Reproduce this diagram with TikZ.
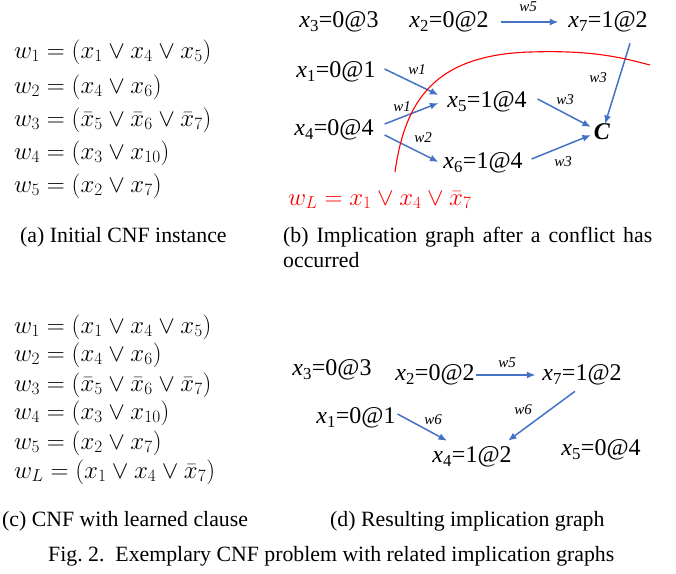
\documentclass[tikz,border=0pt]{standalone}
\usepackage{fontspec}
\setmainfont{Liberation Serif}
\usetikzlibrary{arrows.meta,calc}
\definecolor{arblue}{RGB}{68,114,196}
\newcommand\gvar[3]{\textit{x}\textsubscript{#1}=#2@#3}
\begin{document}
\begin{tikzpicture}[x=1pt,y=-1pt,
  gn/.style={inner sep=0pt, outer sep=0pt, font=\fontsize{24}{28}\selectfont},
  el/.style={font=\fontsize{15}{17}\selectfont\itshape, inner sep=0pt},
  ar/.style={draw=arblue, line width=1.5pt, -{Latex[length=8.5pt,width=7pt]}},
  captxt/.style={font=\fontsize{21.8}{25}\selectfont, inner sep=0pt, anchor=west},
  fa/.style={font=\fontsize{27}{30}\selectfont, inner sep=0pt, anchor=west},
  fc/.style={font=\fontsize{25}{28}\selectfont, inner sep=0pt, anchor=west}]
\useasboundingbox (0,0) rectangle (676,573);

% (a) formulas
\node[fa] (a1) at (14,52)  {$w_1 = (x_1 \vee x_4 \vee x_5)$};
\node[fa] (a2) at (14,87)  {$w_2 = (x_4 \vee x_6)$};
\node[fa] (a3) at (14,120) {$w_3 = (\bar{x}_5 \vee \bar{x}_6 \vee \bar{x}_7)$};
\node[fa] (a4) at (14,153) {$w_4 = (x_3 \vee x_{10})$};
\node[fa] (a5) at (14,186) {$w_5 = (x_2 \vee x_7)$};

% (b) graph
\node[gn] (b3) at (339,22)  {\gvar{3}{0}{3}};
\node[gn] (b2) at (449,22)  {\gvar{2}{0}{2}};
\node[gn] (b7) at (608,22)  {\gvar{7}{1}{2}};
\node[gn] (b1) at (336,72)  {\gvar{1}{0}{1}};
\node[gn] (b5) at (487,102) {\gvar{5}{1}{4}};
\node[gn] (b4) at (334,130) {\gvar{4}{0}{4}};
\node[gn] (bc) at (602,132) {\textbf{\textit{C}}};
\node[gn] (b6) at (483,163) {\gvar{6}{1}{4}};

\draw[ar] ([xshift=12pt]b2.east) -- ([xshift=-10pt]b7.west);
\draw[ar] ([xshift=9pt,yshift=3pt]b1.east) -- ([xshift=-9pt,yshift=7pt]b5.west);
\draw[ar] ([xshift=11pt,yshift=6pt]b4.east) -- ([xshift=-9pt,yshift=-1pt]b5.west);
\draw[ar] ([xshift=11pt,yshift=-5pt]b4.east) -- ([xshift=-5pt,yshift=1pt]b6.west);
\draw[ar] ([xshift=11pt,yshift=3pt]b5.east) -- ([xshift=-3pt,yshift=5pt]bc.west);
\draw[ar] ([xshift=9pt,yshift=4pt]b6.east) -- ([xshift=-3pt,yshift=-3pt]bc.west);
\draw[ar] ([xshift=22pt,yshift=-11pt]b7.south) -- ([xshift=3pt]bc.north);

\node[el] (lb5) at (528,7)   {w5};
\node[el] (lb1a) at (417,70) {w1};
\node[el] (lb1b) at (402,107) {w1};
\node[el] (lb2) at (423,138) {w2};
\node[el] (lb3a) at (565,100) {w3};
\node[el] (lb3b) at (563,162) {w3};
\node[el] (lb3c) at (598,78) {w3};

\coordinate (cs) at (395,172);
\coordinate (cm) at (530,52);
\coordinate (ce) at (650,65);
\draw[red, line width=1.1pt] (cs) .. controls (405,100) and (435,55) .. (cm)
  .. controls (590,50) and (620,57) .. (ce);
\node[fc, text=red] (wl) at (288,200) {$w_L = x_1 \vee x_4 \vee \bar{x}_7$};

% captions row 1
\node[captxt] (ca) at (20,237) {(a) Initial CNF instance};
\node[captxt] (cb) at (283,237) {\makebox[369pt][s]{(b) Implication graph after a conflict has}};
\node[captxt] (cb2) at (283,260) {occurred};

% (c) formulas
\node[fc] (c1) at (14,327) {$w_1 = (x_1 \vee x_4 \vee x_5)$};
\node[fc] (c2) at (14,355) {$w_2 = (x_4 \vee x_6)$};
\node[fc] (c3) at (14,385) {$w_3 = (\bar{x}_5 \vee \bar{x}_6 \vee \bar{x}_7)$};
\node[fc] (c4) at (14,413) {$w_4 = (x_3 \vee x_{10})$};
\node[fc] (c5) at (14,443) {$w_5 = (x_2 \vee x_7)$};
\node[fc] (c6) at (14,472) {$w_L = (x_1 \vee x_4 \vee \bar{x}_7)$};

% (d) graph
\node[gn] (d3) at (332,370) {\gvar{3}{0}{3}};
\node[gn] (d2) at (435,375) {\gvar{2}{0}{2}};
\node[gn] (d7) at (582,375) {\gvar{7}{1}{2}};
\node[gn] (d1) at (356,418) {\gvar{1}{0}{1}};
\node[gn] (d4) at (472,457) {\gvar{4}{1}{2}};
\node[gn] (d5) at (601,450) {\gvar{5}{0}{4}};

\draw[ar] ([xshift=1pt]d2.east) -- ([xshift=-7pt]d7.west);
\draw[ar] ([xshift=2pt,yshift=4pt]d1.east) -- ([xshift=-25pt,yshift=6pt]d4.north);
\draw[ar] ([xshift=-7pt,yshift=-6pt]d7.south) -- ([xshift=36pt,yshift=6pt]d4.north);

\node[el] (ld5) at (507,363) {w5};
\node[el] (ld6a) at (433,420) {w6};
\node[el] (ld6b) at (523,410) {w6};

% captions row 2
\node[captxt] (cc) at (2,521) {(c) CNF with learned clause};
\node[captxt] (cd) at (330,521) {(d) Resulting implication graph};
\node[captxt] (fig) at (48,556) {Fig.~2.\ \ Exemplary CNF problem with related implication graphs};
\end{tikzpicture}
\end{document}
